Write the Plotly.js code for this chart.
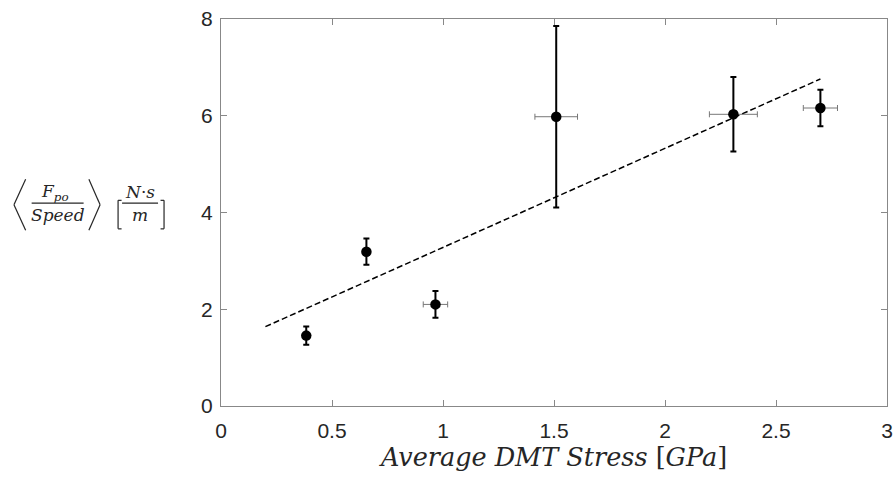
<!DOCTYPE html>
<html>
<head>
<meta charset="utf-8">
<script src="https://cdn.plot.ly/plotly-3.0.1.min.js"></script>
<style>html,body{margin:0;padding:0;background:#fff;}#chart{width:896px;height:477px;}</style>
</head>
<body>
<div id="chart"></div>
<script>
// ---- data ----
const stressGPa   = [0.384, 0.655, 0.966, 1.51, 2.308, 2.70];
const forceSpeed  = [1.455, 3.19, 2.10, 5.98, 6.03, 6.16];
const forceErr    = [0.19, 0.27, 0.275, 1.875, 0.77, 0.375];
const stressErr   = [0, 0, 0.055, 0.096, 0.108, 0.077];
const fitX        = [0.2, 2.7];
const fitY        = [1.64, 6.76];
const xTickVals   = [0, 0.5, 1, 1.5, 2, 2.5, 3];
const xTickText   = ['0', '0.5', '1', '1.5', '2', '2.5', '3'];
const yTickVals   = [0, 2, 4, 6, 8];
const yTickText   = ['0', '2', '4', '6', '8'];

// ---- layout geometry (pixels) ----
const W = 896, H = 477;
const mL = 220.5, mR = 9, mT = 19.3, mB = 71;
const pw = W - mL - mR, ph = H - mT - mB;
const px = x => (x - mL) / pw;
const py = y => (H - mB - y) / ph;

const serif = 'DejaVu Serif, Liberation Serif, serif';
const ink = '#262626';

const traces = [
  {
    x: fitX, y: fitY, mode: 'lines', type: 'scatter',
    line: {color: '#000', width: 1.5, dash: '6px,3px'},
    hoverinfo: 'skip', showlegend: false
  },
  {
    x: stressGPa, y: forceSpeed, mode: 'markers', type: 'scatter',
    marker: {color: '#000', size: 10.5},
    error_y: {type: 'data', array: forceErr, visible: true, color: '#000', thickness: 2, width: 3},
    error_x: {type: 'data', array: stressErr, visible: true, color: '#777', thickness: 1, width: 3},
    showlegend: false
  }
];

function seg(x0, y0, x1, y1) {
  return {type: 'line', xref: 'paper', yref: 'paper',
          x0: px(x0), y0: py(y0), x1: px(x1), y1: py(y1),
          line: {color: ink, width: 1.2}};
}
const shapes = [
  // left angle bracket
  seg(25, 179.5, 13.3, 205), seg(13.3, 205, 25, 230.5),
  // right angle bracket
  seg(88.3, 179.5, 99.5, 205), seg(99.5, 205, 88.3, 230.5),
  // fraction bars
  seg(31, 203.3, 83, 203.3),
  seg(121.5, 203.3, 157.5, 203.3),
  // square brackets
  seg(117.5, 200.5, 117.5, 229), seg(117.5, 200.5, 121, 200.5), seg(117.5, 229, 121, 229),
  seg(163.5, 200.5, 163.5, 229), seg(163.5, 200.5, 160, 200.5), seg(163.5, 229, 160, 229)
];

function ann(text, xc, yc, size) {
  return {text: text, xref: 'paper', yref: 'paper', x: px(xc), y: py(yc),
          xanchor: 'center', yanchor: 'middle', showarrow: false,
          font: {family: serif, size: size, color: ink}};
}
const annotations = [
  ann('<i>F</i><sub><i>po</i></sub>', 54, 193, 17),
  ann('<i>Speed</i>', 57, 215, 17),
  ann('<i>N</i>·<i>s</i>', 139.5, 192, 17),
  ann('<i>m</i>', 139.5, 215, 17)
];

const axisCommon = {
  showline: true, linecolor: '#888', linewidth: 1, mirror: 'ticks',
  ticks: 'inside', ticklen: 6, tickwidth: 1, tickcolor: '#888',
  showgrid: false, zeroline: false,
  tickfont: {family: 'Liberation Sans, Arial, sans-serif', size: 21, color: ink},
  tickmode: 'array'
};

const layout = {
  width: W, height: H,
  margin: {l: mL, r: mR, t: mT, b: mB, pad: 0},
  paper_bgcolor: '#fff', plot_bgcolor: '#fff',
  showlegend: false,
  xaxis: Object.assign({}, axisCommon, {
    range: [0, 3], tickvals: xTickVals, ticktext: xTickText,
    ticklabelstandoff: 6,
    title: {text: '<i>Average DMT Stress </i>[<i>GPa</i>]', standoff: 4,
            font: {family: serif, size: 25.5, color: ink}}
  }),
  yaxis: Object.assign({}, axisCommon, {
    range: [0, 8], tickvals: yTickVals, ticktext: yTickText,
    ticklabelstandoff: 3
  }),
  shapes: shapes,
  annotations: annotations
};

Plotly.newPlot('chart', traces, layout, {displayModeBar: false, staticPlot: true});
</script>
</body>
</html>
